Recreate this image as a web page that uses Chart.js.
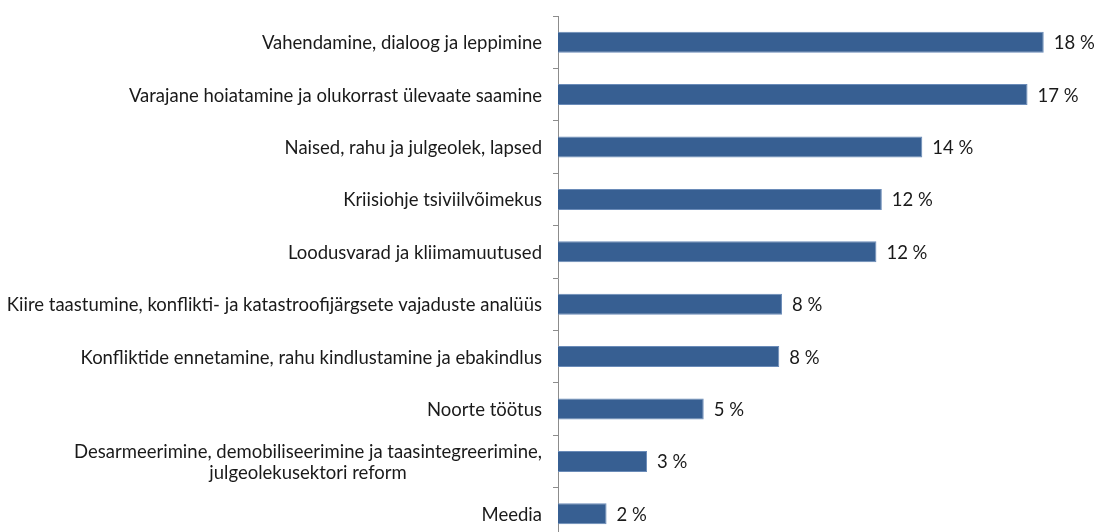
<!DOCTYPE html>
<html>
<head>
<meta charset="utf-8">
<script src="https://cdn.jsdelivr.net/npm/chart.js@4/dist/chart.umd.min.js"></script>
<style>
    html, body { margin: 0; padding: 0; background: #fff; overflow: hidden; width: 1095px; height: 532px; }
    canvas { display: block; }
</style>
</head>
<body>
<canvas id="chart" width="1095" height="540"></canvas>
<script>
const categories = [
    'Vahendamine, dialoog ja leppimine',
    'Varajane hoiatamine ja olukorrast ülevaate saamine',
    'Naised, rahu ja julgeolek, lapsed',
    'Kriisiohje tsiviilvõimekus',
    'Loodusvarad ja kliimamuutused',
    'Kiire taastumine, konflikti- ja katastroofijärgsete vajaduste analüüs',
    'Konfliktide ennetamine, rahu kindlustamine ja ebakindlus',
    'Noorte töötus',
    ['Desarmeerimine, demobiliseerimine ja taasintegreerimine,', 'julgeolekusektori reform'],
    'Meedia'
];
const shares = [18.0, 17.4, 13.5, 12.0, 11.8, 8.3, 8.2, 5.4, 3.3, 1.8];
const shareLabels = ['18 %', '17 %', '14 %', '12 %', '12 %', '8 %', '8 %', '5 %', '3 %', '2 %'];

const FONT = '18.5px Lato, "Open Sans", sans-serif';
const TEXT = '#1a1a1a';

// category names: right aligned, wrapped lines centred on each other (Excel style)
const categoryLabels = {
    id: 'categoryLabels',
    afterDraw(chart) {
        const ctx = chart.ctx;
        const scale = chart.scales.y;
        const right = scale.right - 5 - 11;
        const lineH = 21;
        ctx.save();
        ctx.font = FONT;
        ctx.fillStyle = TEXT;
        ctx.textBaseline = 'middle';
        categories.forEach((label, i) => {
            const y = scale.getPixelForTick(i) + 1;
            if (Array.isArray(label)) {
                const w = Math.max(...label.map(s => ctx.measureText(s).width));
                ctx.textAlign = 'center';
                label.forEach((s, k) => {
                    ctx.fillText(s, right - w / 2, y + (k - (label.length - 1) / 2) * lineH);
                });
            } else {
                ctx.textAlign = 'right';
                ctx.fillText(label, right, y);
            }
        });
        ctx.restore();
    }
};

// value labels to the right of each bar
const valueLabels = {
    id: 'valueLabels',
    afterDatasetsDraw(chart) {
        const ctx = chart.ctx;
        const meta = chart.getDatasetMeta(0);
        ctx.save();
        ctx.font = FONT;
        ctx.fillStyle = TEXT;
        ctx.textAlign = 'left';
        ctx.textBaseline = 'middle';
        meta.data.forEach((bar, i) => {
            ctx.fillText(shareLabels[i], bar.x + 10, bar.y + 1);
        });
        ctx.restore();
    }
};

new Chart(document.getElementById('chart'), {
    type: 'bar',
    data: {
        labels: categories,
        datasets: [{
            data: shares,
            backgroundColor: '#375f92',
            borderColor: '#6a8bb8',
            borderWidth: 1,
            barPercentage: 0.4,
            categoryPercentage: 1.0
        }]
    },
    options: {
        indexAxis: 'y',
        responsive: false,
        animation: false,
        layout: { padding: { top: 16, right: 0, bottom: 0, left: 0 } },
        plugins: {
            legend: { display: false },
            tooltip: { enabled: false }
        },
        scales: {
            x: {
                display: false,
                min: 0,
                max: 19.9
            },
            y: {
                afterFit(scale) {
                    scale.width = 558;
                    scale.paddingTop = 0;
                    scale.paddingBottom = 0;
                },
                border: { display: true, color: '#8c8c8c', width: 1 },
                grid: {
                    offset: true,
                    drawOnChartArea: false,
                    drawTicks: true,
                    tickLength: 5,
                    color: '#8c8c8c'
                },
                ticks: { display: false, autoSkip: false }
            }
        }
    },
    plugins: [valueLabels, categoryLabels]
});
</script>
</body>
</html>
